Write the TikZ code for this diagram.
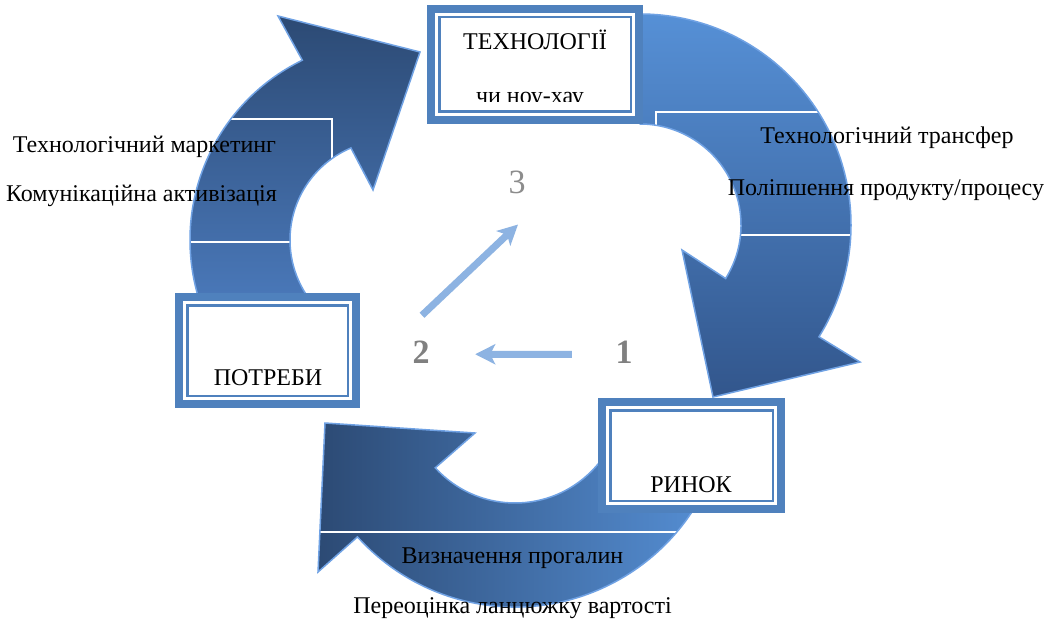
\documentclass[tikz,border=0pt]{standalone}
\usepackage{fontspec}
\setmainfont{Liberation Serif}
\usetikzlibrary{arrows.meta,calc}

\definecolor{boxblue}{RGB}{79,129,189}
\definecolor{edgeblue}{RGB}{112,162,228}
\definecolor{flowblue}{RGB}{141,179,226}
\definecolor{numgray}{RGB}{128,128,128}
\definecolor{numgraylt}{RGB}{140,140,140}
\definecolor{bandlight}{RGB}{86,144,214}
\definecolor{bandmid}{RGB}{80,130,200}
\definecolor{banddark}{RGB}{44,74,116}
\definecolor{banddarkA}{RGB}{50,86,140}

\tikzset{
  % the three curved arrows of the cycle
  bandA/.style={insert path={(640,-14) arc[start angle=90,end angle=-32,radius=211]
      -- (860,-362) -- (713,-397) -- (682,-250)
      -- ([shift={(-32:101)}]640,-225) arc[start angle=-32,end angle=90,radius=101] -- cycle}},
  bandB/.style={insert path={([shift={(218:200)}]390,-240) arc[start angle=218,end angle=116,radius=200]
      -- (278,-16) -- (420,-52) -- (373,-190)
      -- ([shift={(113:100)}]390,-240) arc[start angle=113,end angle=218,radius=100] -- cycle}},
  bandC/.style={insert path={([shift={(-15:212)}]515,-395) arc[start angle=-15,end angle=-138,radius=212]
      -- (318,-572) -- (325,-423) -- (475,-433)
      -- ([shift={(-137.6:108)}]515,-395) arc[start angle=-137.6,end angle=-15,radius=108] -- cycle}},
  bandedge/.style={draw=edgeblue, line width=1.5pt},
  divider/.style={draw=white, line width=2pt},
  dbox/.style={draw=boxblue, line width=8pt, fill=white, rectangle, inner sep=0pt, outer sep=0pt},
  thinline/.style={draw=boxblue, line width=2.5pt},
  lbl/.style={font=\fontsize{24}{28}\selectfont, inner sep=0pt, anchor=base, text=black},
  numlbl/.style={font=\fontsize{34}{38}\selectfont\bfseries, inner sep=0pt, anchor=base, text=numgray},
  flow/.style={draw=flowblue, line width=7pt, -{Stealth[length=20pt,width=20pt,inset=5pt]}},
}

\begin{document}
\begin{tikzpicture}[x=1pt,y=1pt]
  \useasboundingbox (0,0) rectangle (1049,-623);
  \fill[white] (0,0) rectangle (1049,-623);

  % arrow bodies
  \shade[top color=bandlight, bottom color=banddarkA, bandA];
  \shade[top color=banddark, bottom color=bandmid, bandB];
  \shade[left color=banddark, right color=bandlight, bandC];

  % text-frame edges seen on the arrows
  \begin{scope}
    \clip[bandA];
    \draw[divider] (656,-112) rectangle (1100,-235);
  \end{scope}
  \begin{scope}
    \clip[bandB];
    \draw[divider] (-10,-119) rectangle (332,-242);
  \end{scope}
  \begin{scope}
    \clip[bandC];
    \draw[divider] (250,-532) rectangle (900,-700);
  \end{scope}

  \draw[bandedge, bandA];
  \draw[bandedge, bandB];
  \draw[bandedge, bandC];

  % framed boxes
  \node[dbox, minimum width=208, minimum height=111] (tech) at (535,-64.5) {};
  \node[dbox, minimum width=177, minimum height=107] (needs) at (267.5,-350.5) {};
  \node[dbox, minimum width=179, minimum height=107] (market) at (691.5,-455.5) {};
  \foreach \b in {tech,needs,market}
    \draw[thinline] ([shift={(8.25,8.25)}]\b.south west) rectangle ([shift={(-8.25,-8.25)}]\b.north east);

  % box captions
  \node[lbl] (techA) at (535,-50) {ТЕХНОЛОГІЇ};
  \begin{scope}
    \clip (441,-18) rectangle (630,-101.5);
    \node[lbl] (techB) at (530,-103.5) {чи ноу-хау};
  \end{scope}
  \node[lbl] (needsT) at (268,-385) {ПОТРЕБИ};
  \node[lbl] (marketT) at (691,-492) {РИНОК};

  % arrow captions
  \node[lbl] (tmA) at (144.5,-152) {Технологічний маркетинг};
  \node[lbl] (tmB) at (141.5,-201) {Комунікаційна активізація};
  \node[lbl] (ttA) at (887,-143) {Технологічний трансфер};
  \node[lbl] (ttB) at (886,-195) {Поліпшення продукту/процесу};
  \node[lbl] (gpA) at (512.5,-563) {Визначення прогалин};
  \node[lbl] (gpB) at (512.5,-613) {Переоцінка ланцюжку вартості};

  % stage numbers
  \node[numlbl] (n1) at (624,-363) {1};
  \node[numlbl] (n2) at (421,-363) {2};
  \node[numlbl, font=\fontsize{34}{38}\selectfont, text=numgraylt] (n3) at (517,-193) {3};

  \draw[flow] ([shift={(-43.5,-2.5)}]n1.west) -- ([shift={(45.5,-2.5)}]n2.east);
  \draw[flow] ([shift={(1,25)}]n2.north) -- ([shift={(1,-31)}]n3.south);
\end{tikzpicture}
\end{document}
